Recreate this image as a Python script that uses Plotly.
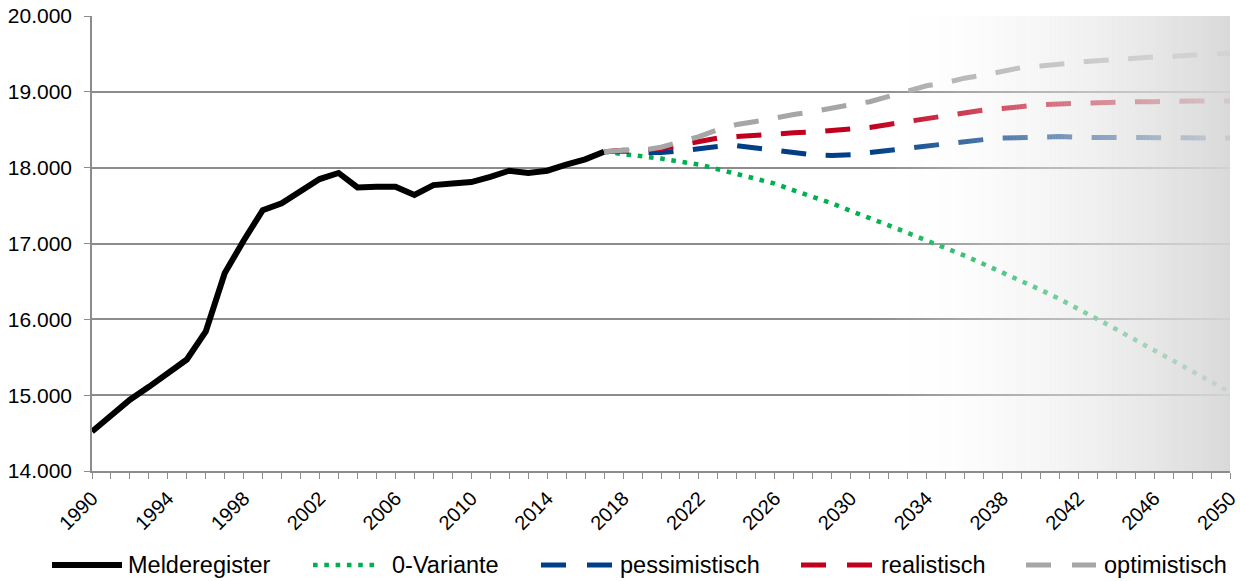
import plotly.graph_objects as go

# ---------------- data ----------------
years_hist = list(range(1990, 2018))
melderegister = [14520, 14720, 14940, 15110, 15300, 15470, 15840, 16610, 17040, 17440,
                 17530, 17700, 17850, 17930, 17740, 17750, 17750, 17640, 17770, 17790,
                 17810, 17880, 17960, 17930, 17960, 18040, 18110, 18210]

years_proj = list(range(2017, 2051))
null_variante = [18210, 18180, 18160, 18120, 18080, 18040, 17980, 17920, 17850, 17790,
                 17700, 17620, 17530, 17430, 17340, 17240, 17140, 17040, 16950, 16840,
                 16730, 16620, 16510, 16390, 16270, 16140, 16010, 15870, 15730, 15590,
                 15450, 15310, 15170, 15040]
pessimistisch = [18210, 18220, 18200, 18200, 18220, 18250, 18280, 18290, 18260, 18230,
                 18200, 18170, 18160, 18170, 18200, 18230, 18260, 18290, 18310, 18340,
                 18370, 18390, 18400, 18410, 18410, 18400, 18400, 18400, 18400, 18400,
                 18390, 18390, 18390, 18390]
realistisch = [18210, 18230, 18230, 18250, 18300, 18350, 18390, 18410, 18430, 18440,
               18460, 18470, 18490, 18510, 18530, 18570, 18610, 18650, 18680, 18720,
               18760, 18780, 18810, 18830, 18840, 18850, 18850, 18860, 18870, 18870,
               18880, 18880, 18880, 18880]
optimistisch = [18210, 18230, 18230, 18270, 18340, 18410, 18500, 18570, 18610, 18660,
                18700, 18740, 18790, 18830, 18870, 18940, 19020, 19080, 19120, 19180,
                19220, 19270, 19320, 19340, 19370, 19390, 19410, 19430, 19450, 19460,
                19470, 19490, 19500, 19510]

series_names = ["Melderegister", "0-Variante", "pessimistisch", "realistisch", "optimistisch"]
x_tick_years = list(range(1990, 2051, 4))
y_ticks = [14000, 15000, 16000, 17000, 18000, 19000, 20000]

# ---------------- styles ----------------
FONT = "Liberation Sans, Arial, sans-serif"
C_BLACK = "#000000"
C_GREEN = "#00b050"
C_BLUE = "#003f87"
C_RED = "#c0001e"
C_GRAY = "#a6a6a6"
GRID = "#8c8c8c"
DASH = "25px,19.5px"
DOT = "4.6px,6.7px"

fig = go.Figure()
fig.add_trace(go.Scatter(x=years_hist, y=melderegister, mode="lines", name=series_names[0],
                         line=dict(color=C_BLACK, width=6), showlegend=False))
fig.add_trace(go.Scatter(x=years_proj, y=null_variante, mode="lines", name=series_names[1],
                         line=dict(color=C_GREEN, width=4.6, dash=DOT), showlegend=False))
fig.add_trace(go.Scatter(x=years_proj, y=pessimistisch, mode="lines", name=series_names[2],
                         line=dict(color=C_BLUE, width=5, dash=DASH), showlegend=False))
fig.add_trace(go.Scatter(x=years_proj, y=realistisch, mode="lines", name=series_names[3],
                         line=dict(color=C_RED, width=5, dash=DASH), showlegend=False))
fig.add_trace(go.Scatter(x=years_proj, y=optimistisch, mode="lines", name=series_names[4],
                         line=dict(color=C_GRAY, width=5, dash=DASH), showlegend=False))

# ---------------- fading gradient overlay on the right ----------------
shapes = []
xs, xe = 2031.0, 2050.0
n = 120
for i in range(n):
    t0 = i / n
    t1 = (i + 1) / n
    t = (t0 + t1) / 2
    alpha = 0.93 * t
    c = int(round(255 - t * 41))
    shapes.append(dict(type="rect", xref="x", yref="paper",
                       x0=xs + (xe - xs) * t0, x1=xs + (xe - xs) * t1 + 0.01,
                       y0=0, y1=1, layer="above", line=dict(width=0),
                       fillcolor=f"rgba({c},{c},{c},{alpha:.3f})"))

# ---------------- custom legend ----------------
L_PX, R_PX, T_PX, B_PX = 92, 1230, 16, 471
W_PX = R_PX - L_PX
H_PX = B_PX - T_PX


def px_x(px):
    return (px - L_PX) / W_PX


def px_y(py):
    return (B_PX - py) / H_PX


leg_y = px_y(565)
legend_items = [
    (series_names[0], C_BLACK, 6, "solid", 52, 122, 126),
    (series_names[1], C_GREEN, 4.6, DOT, 313, 378, 390),
    (series_names[2], C_BLUE, 5, "25px,21px", 541, 612, 618),
    (series_names[3], C_RED, 5, "25px,21px", 801, 872, 879),
    (series_names[4], C_GRAY, 5, "25px,21px", 1026, 1096, 1102),
]
annotations = []
for name, col, w, dash, s0, s1, tx in legend_items:
    shapes.append(dict(type="line", xref="paper", yref="paper",
                       x0=px_x(s0), x1=px_x(s1), y0=leg_y, y1=leg_y,
                       line=dict(color=col, width=w, dash=dash)))
    annotations.append(dict(xref="paper", yref="paper", x=px_x(tx), y=leg_y,
                            xanchor="left", yanchor="middle", showarrow=False,
                            text=name, font=dict(family=FONT, size=23.5, color="#000000")))

fig.update_layout(
    width=1240, height=581,
    margin=dict(l=L_PX, r=1240 - R_PX, t=T_PX, b=581 - B_PX, autoexpand=False),
    paper_bgcolor="white", plot_bgcolor="white",
    separators=",.",
    showlegend=False,
    shapes=shapes,
    annotations=annotations,
    font=dict(family=FONT, color="#000000"),
)
fig.update_xaxes(
    range=[1990, 2050], tickmode="array", tickvals=x_tick_years,
    ticktext=[str(y) for y in x_tick_years], tickangle=-45,
    tickfont=dict(family=FONT, size=20, color="#000000"),
    showgrid=False, zeroline=False, automargin=False,
    showline=True, linecolor=GRID, linewidth=1.5,
    ticks="outside", ticklen=6, tickcolor=GRID, tickwidth=1.2,
    minor=dict(tickmode="linear", tick0=1990, dtick=1, ticks="outside", ticklen=6,
               tickcolor=GRID, tickwidth=1.2, showgrid=False),
)
fig.update_yaxes(
    range=[14000, 20000], tickmode="array", tickvals=y_ticks,
    tickformat=",.0f", automargin=False,
    tickfont=dict(family=FONT, size=21, color="#000000"),
    ticklabelstandoff=8,
    showgrid=True, gridcolor=GRID, gridwidth=1.5, zeroline=False,
    showline=True, linecolor=GRID, linewidth=1.5,
    ticks="outside", ticklen=6, tickcolor=GRID, tickwidth=1.2,
)

fig.write_html(
    "out.html",
    config={"displayModeBar": False},
    post_script="document.body.style.margin='0';document.body.style.padding='0';"
                "document.body.style.overflow='hidden';",
)
